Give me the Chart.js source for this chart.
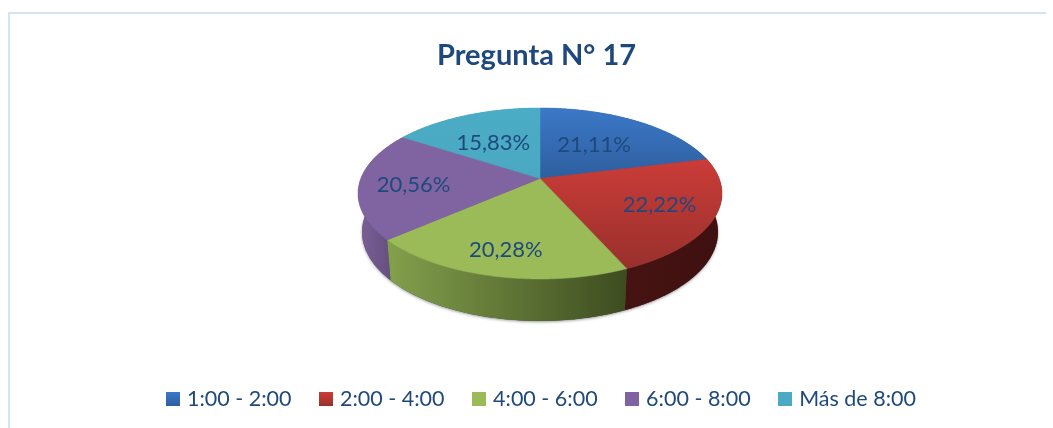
<!DOCTYPE html>
<html><head><meta charset="utf-8">
<style>html,body{margin:0;padding:0;background:#fff;overflow:hidden}
#frame{position:absolute;left:8px;top:12px;width:1036px;height:416px;border-left:2px solid #d3e4f5;border-top:2px solid #d3e4f5;}
canvas{position:absolute;left:0;top:0}</style>
<script src="https://cdn.jsdelivr.net/npm/chart.js@4/dist/chart.umd.min.js"></script>
</head><body>
<div id="frame"></div>
<div style="position:absolute;left:0;top:0;width:1053px;height:428px"><canvas id="c" width="1053" height="428"></canvas></div>
<script>
const categories = ['1:00 - 2:00','2:00 - 4:00','4:00 - 6:00','6:00 - 8:00','Más de 8:00'];
const values = [21.11,22.22,20.28,20.56,15.83];
const valueLabels = ['21,11%','22,22%','20,28%','20,56%','15,83%'];
const baseColors = ['#3568ad','#b83532','#9bbb59','#8064a2','#4bacc6'];
const faceTop = ['#3c78c8','#cb3c38','#9bbb59','#8064a2','#4bacc6'];
const faceBottom = ['#2d5f9e','#98302c','#9bbb59','#8064a2','#4aa8c2'];
const wallLeft = ['#2a4f80','#451312','#83a04c','#7a5f98','#3d8ca2'];
const wallRight = ['#1d3a5e','#3f1010','#3d4c20','#5f4a77','#2f6f80'];
const labelReach = [0.54,0.70,0.767,0.70,0.54];
const labelTurn = [-1,-0.5,0,-2.5,-3];

const TEXT = '#1f497d', FONT = 'Lato, Carlito, Calibri, sans-serif';
const top3d = {cx:540, cy:193.5, rx:182, ry:85.5};
const bot3d = {cx:540, cy:232, rx:178, ry:89};
const A = 0.175, SQ = Math.sqrt(1-A*A);
function proj(e, th, r){
  const X = r*Math.cos(th), Y = -r*Math.sin(th), d = 1+A*Y;
  return [e.cx + e.rx*X*SQ/d, e.cy - e.ry*(Y+A)/d];
}
function steps(a,b){ return Math.max(2, Math.ceil((b-a)/0.01)); }

Chart.ArcElement.prototype.draw = function(ctx){
  const i = this.$context.dataIndex, a = this.startAngle, b = this.endAngle, n = steps(a,b);
  const apex = proj(top3d,0,0);
  let minY = apex[1], maxY = apex[1];
  ctx.save();
  ctx.beginPath(); ctx.moveTo(apex[0],apex[1]);
  for(let k=0;k<=n;k++){ const p=proj(top3d,a+(b-a)*k/n,1); ctx.lineTo(p[0],p[1]); minY=Math.min(minY,p[1]); maxY=Math.max(maxY,p[1]); }
  ctx.closePath();
  const g = ctx.createLinearGradient(0,minY,0,maxY);
  g.addColorStop(0,faceTop[i]); g.addColorStop(1,faceBottom[i]);
  ctx.fillStyle = g; ctx.strokeStyle = g; ctx.lineWidth = 0.5;
  ctx.fill(); ctx.stroke();
  ctx.restore();
};

const wallsPlugin = {
  id:'walls',
  beforeDatasetsDraw(chart){
    const ctx = chart.ctx, arcs = chart.getDatasetMeta(0).data;
    ctx.save();
    ctx.shadowColor='rgba(60,60,60,0.55)'; ctx.shadowBlur=3; ctx.shadowOffsetY=1;
    ctx.fillStyle='#444';
    ctx.beginPath(); ctx.ellipse(bot3d.cx,bot3d.cy,bot3d.rx,bot3d.ry,0,0,Math.PI*2); ctx.fill();
    ctx.restore();
    const order = arcs.map((_,i)=>i).sort((p,q)=>{
      const s=j=>Math.sin((arcs[j].startAngle+arcs[j].endAngle)/2); return s(p)-s(q);});
    order.forEach(i=>{
      const a=arcs[i].startAngle,b=arcs[i].endAngle,n=steps(a,b);
      let minX=1e9,maxX=-1e9;
      ctx.beginPath();
      for(let k=0;k<=n;k++){ const p=proj(top3d,a+(b-a)*k/n,1); k?ctx.lineTo(p[0],p[1]):ctx.moveTo(p[0],p[1]); minX=Math.min(minX,p[0]); maxX=Math.max(maxX,p[0]); }
      for(let k=n;k>=0;k--){ const p=proj(bot3d,a+(b-a)*k/n,1); ctx.lineTo(p[0],p[1]); }
      ctx.closePath();
      const g=ctx.createLinearGradient(minX,0,maxX,0);
      g.addColorStop(0,wallLeft[i]); g.addColorStop(1,wallRight[i]);
      ctx.fillStyle=g; ctx.fill();
    });
  },
  afterDatasetsDraw(chart){
    const ctx = chart.ctx, arcs = chart.getDatasetMeta(0).data;
    ctx.save();
    ctx.fillStyle=TEXT; ctx.font='22px '+FONT; ctx.textAlign='center'; ctx.textBaseline='middle';
    arcs.forEach((el,i)=>{
      const mid=(el.startAngle+el.endAngle)/2+labelTurn[i]*Math.PI/180;
      const p=proj(top3d,mid,labelReach[i]);
      ctx.fillText(valueLabels[i],p[0],p[1]);
    });
    ctx.restore();
  }
};

function swatch(i){
  const c=document.createElement('canvas'); c.width=14; c.height=14;
  const x=c.getContext('2d'), g=x.createLinearGradient(0,0,0,14);
  g.addColorStop(0,faceTop[i]); g.addColorStop(1,faceBottom[i]);
  x.fillStyle=g; x.fillRect(0,0,14,14);
  return c;
}

new Chart(document.getElementById('c'),{
  type:'pie',
  data:{labels:categories,datasets:[{data:values,backgroundColor:baseColors,borderWidth:0}]},
  plugins:[wallsPlugin],
  options:{
    responsive:false,animation:false,
    radius:85,
    layout:{padding:{top:38,bottom:8,left:126.25,right:106.25}},
    plugins:{
      tooltip:{enabled:false},
      title:{display:true,text:'Pregunta N° 17',color:TEXT,font:{family:FONT,size:29,weight:'bold'},padding:{top:0,bottom:10}},
      legend:{position:'bottom',align:'end',labels:{
        color:TEXT,font:{family:FONT,size:21.5},usePointStyle:true,pointStyleWidth:7,padding:30.75,boxHeight:21,
        generateLabels(chart){
          return categories.map((t,i)=>({text:t,fontColor:TEXT,pointStyle:swatch(i),index:i,lineWidth:0,strokeStyle:'transparent',fillStyle:baseColors[i]}));
        }
      }}
    }
  }
});
</script>
</body></html>
